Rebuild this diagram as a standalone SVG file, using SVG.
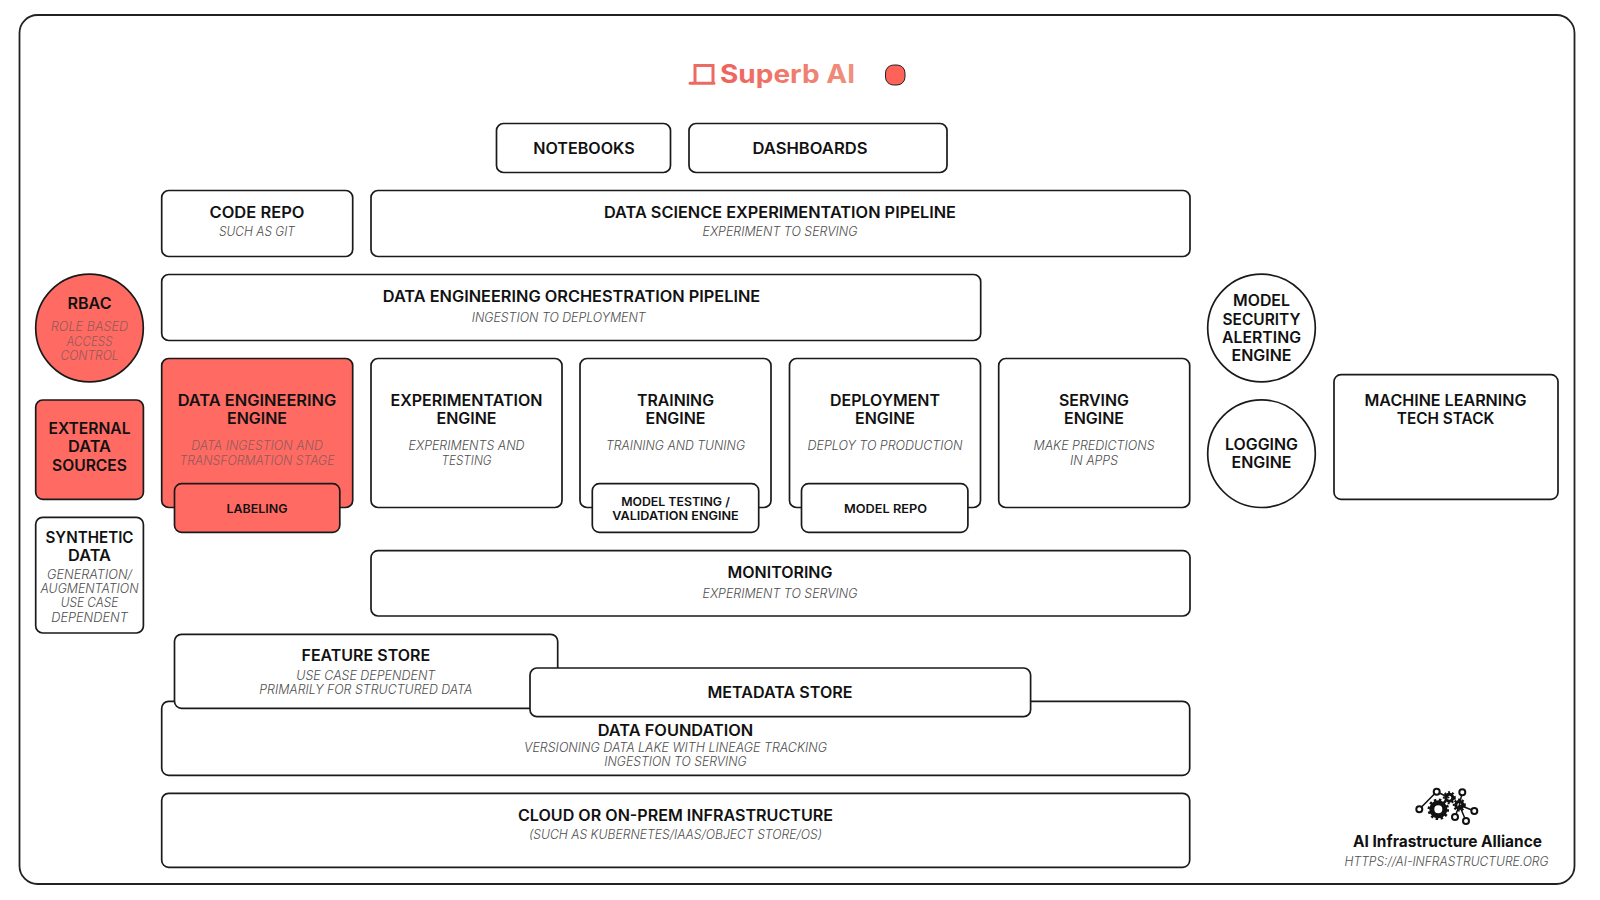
<svg xmlns="http://www.w3.org/2000/svg" width="1600" height="900" viewBox="0 0 1600 900">
<style>
.b{fill:#fff;stroke:#1a1a1a;stroke-width:1.7}
.r{fill:#ff6b63;stroke:#1a1a1a;stroke-width:1.7}
text{font-family:"Inter","Liberation Sans",sans-serif;text-anchor:middle}
.t{font-size:15.5px;font-weight:600;fill:#111}
.s{font-size:12.5px;font-weight:300;font-style:italic;fill:#4d4d4d}
.u{font-size:12.5px;font-weight:300;font-style:italic;fill:#94595a}
.m{font-size:12px;font-weight:600;fill:#111}
.i{fill:#fff;stroke:#111;stroke-width:2}
.l{fill:none;stroke:#111;stroke-width:1.5}
</style>
<defs>
<linearGradient id="lg" x1="0" x2="1" y1="0" y2="0"><stop offset="0" stop-color="#ee625c"/><stop offset="1" stop-color="#f0917c"/></linearGradient>
</defs>
<rect width="1600" height="900" fill="#fff"/>
<rect id="frame" x="19.5" y="15" width="1555" height="869" rx="18" fill="#fff" stroke="#222" stroke-width="1.8"/>
<g id="connectors"/>
<g id="logo-superb">
<path d="M695 83V65.500H713V83M690 83.300H714" fill="none" stroke="#ec6a62" stroke-width="3" stroke-linecap="round"/>
<text x="787.500" y="83.300" textLength="135" lengthAdjust="spacingAndGlyphs" style="font-size:25.500px;font-weight:700;fill:url(#lg)">Superb AI</text>
</g>
<g id="status-dot"><rect x="885.500" y="65" width="19.500" height="20" rx="8" fill="#ff6259" stroke="#222" stroke-width="1"/></g>
<g id="notebooks"><rect class="b" x="496.500" y="123.500" width="174" height="49" rx="7"/><text class="t" x="584" y="153.600" textLength="101.500" lengthAdjust="spacingAndGlyphs">NOTEBOOKS</text></g>
<g id="dashboards"><rect class="b" x="689" y="123.500" width="258" height="49" rx="7"/><text class="t" x="810" y="153.600" textLength="115" lengthAdjust="spacingAndGlyphs">DASHBOARDS</text></g>
<g id="code-repo"><rect class="b" x="161.700" y="190.500" width="191" height="66" rx="7"/><text class="t" x="257" y="217.900" textLength="95" lengthAdjust="spacingAndGlyphs">CODE REPO</text><text class="s" x="257" y="235.500" textLength="76" lengthAdjust="spacingAndGlyphs">SUCH AS GIT</text></g>
<g id="ds-pipeline"><rect class="b" x="371" y="190.500" width="819" height="66" rx="7"/><text class="t" x="780" y="217.900" textLength="352" lengthAdjust="spacingAndGlyphs">DATA SCIENCE EXPERIMENTATION PIPELINE</text><text class="s" x="780" y="235.500" textLength="155" lengthAdjust="spacingAndGlyphs">EXPERIMENT TO SERVING</text></g>
<g id="de-pipeline"><rect class="b" x="161.700" y="274.500" width="819" height="66" rx="7"/><text class="t" x="571.500" y="301.600" textLength="377.500" lengthAdjust="spacingAndGlyphs">DATA ENGINEERING ORCHESTRATION PIPELINE</text><text class="s" x="558.700" y="321.800" textLength="174" lengthAdjust="spacingAndGlyphs">INGESTION TO DEPLOYMENT</text></g>
<g id="rbac"><circle class="r" cx="89.500" cy="328" r="53.800"/><text class="t" x="89.500" y="309.300" textLength="44" lengthAdjust="spacingAndGlyphs">RBAC</text><text class="u" x="89.500" y="331.200" textLength="77.500" lengthAdjust="spacingAndGlyphs">ROLE BASED</text><text class="u" x="89.500" y="345.500" textLength="46" lengthAdjust="spacingAndGlyphs">ACCESS</text><text class="u" x="89.500" y="359.800" textLength="58" lengthAdjust="spacingAndGlyphs">CONTROL</text></g>
<g id="external-data"><rect class="r" x="35.700" y="400" width="107.700" height="99.300" rx="7"/><text class="t" x="89.500" y="433.900" textLength="82" lengthAdjust="spacingAndGlyphs">EXTERNAL</text><text class="t" x="89.500" y="451.900" textLength="43" lengthAdjust="spacingAndGlyphs">DATA</text><text class="t" x="89.500" y="470.600" textLength="75" lengthAdjust="spacingAndGlyphs">SOURCES</text></g>
<g id="synthetic-data"><rect class="b" x="35.700" y="517.300" width="107.700" height="115.700" rx="7"/><text class="t" x="89.500" y="542.900" textLength="88" lengthAdjust="spacingAndGlyphs">SYNTHETIC</text><text class="t" x="89.500" y="561.300" textLength="43" lengthAdjust="spacingAndGlyphs">DATA</text><text class="s" x="89.500" y="578.800" textLength="85" lengthAdjust="spacingAndGlyphs">GENERATION/</text><text class="s" x="89.500" y="593.200" textLength="98" lengthAdjust="spacingAndGlyphs">AUGMENTATION</text><text class="s" x="89.500" y="607.200" textLength="57.700" lengthAdjust="spacingAndGlyphs">USE CASE</text><text class="s" x="89.500" y="621.500" textLength="76.500" lengthAdjust="spacingAndGlyphs">DEPENDENT</text></g>
<g id="de-engine"><rect class="r" x="161.700" y="358.500" width="191" height="149" rx="7"/><text class="t" x="257" y="405.600" textLength="158.700" lengthAdjust="spacingAndGlyphs">DATA ENGINEERING</text><text class="t" x="257" y="423.900" textLength="60" lengthAdjust="spacingAndGlyphs">ENGINE</text><text class="u" x="257" y="450.200" textLength="131.600" lengthAdjust="spacingAndGlyphs">DATA INGESTION AND</text><text class="u" x="257" y="464.500" textLength="155" lengthAdjust="spacingAndGlyphs">TRANSFORMATION STAGE</text></g>
<g id="labeling"><rect class="r" x="174.500" y="483.700" width="165.300" height="48.600" rx="7"/><text class="m" x="257" y="513.400" textLength="61" lengthAdjust="spacingAndGlyphs">LABELING</text></g>
<g id="exp-engine"><rect class="b" x="371" y="358.500" width="191" height="149" rx="7"/><text class="t" x="466.500" y="405.600" textLength="152" lengthAdjust="spacingAndGlyphs">EXPERIMENTATION</text><text class="t" x="466.500" y="423.900" textLength="60" lengthAdjust="spacingAndGlyphs">ENGINE</text><text class="s" x="466.500" y="450.200" textLength="116" lengthAdjust="spacingAndGlyphs">EXPERIMENTS AND</text><text class="s" x="466.500" y="464.500" textLength="50" lengthAdjust="spacingAndGlyphs">TESTING</text></g>
<g id="training-engine"><rect class="b" x="580" y="358.500" width="191" height="149" rx="7"/><text class="t" x="675.500" y="405.600" textLength="77" lengthAdjust="spacingAndGlyphs">TRAINING</text><text class="t" x="675.500" y="423.900" textLength="60" lengthAdjust="spacingAndGlyphs">ENGINE</text><text class="s" x="675.500" y="450.200" textLength="139" lengthAdjust="spacingAndGlyphs">TRAINING AND TUNING</text></g>
<g id="model-testing"><rect class="b" x="592.300" y="483.700" width="166.400" height="48.600" rx="7"/><text class="m" x="675.500" y="506.100" textLength="108.700" lengthAdjust="spacingAndGlyphs">MODEL TESTING /</text><text class="m" x="675.500" y="520.400" textLength="126.500" lengthAdjust="spacingAndGlyphs">VALIDATION ENGINE</text></g>
<g id="deployment-engine"><rect class="b" x="789.500" y="358.500" width="191" height="149" rx="7"/><text class="t" x="885" y="405.600" textLength="110" lengthAdjust="spacingAndGlyphs">DEPLOYMENT</text><text class="t" x="885" y="423.900" textLength="60" lengthAdjust="spacingAndGlyphs">ENGINE</text><text class="s" x="885" y="450.200" textLength="155" lengthAdjust="spacingAndGlyphs">DEPLOY TO PRODUCTION</text></g>
<g id="model-repo"><rect class="b" x="801.500" y="483.700" width="166.400" height="48.600" rx="7"/><text class="m" x="885.500" y="513.400" textLength="83" lengthAdjust="spacingAndGlyphs">MODEL REPO</text></g>
<g id="serving-engine"><rect class="b" x="998.700" y="358.500" width="191" height="149" rx="7"/><text class="t" x="1094" y="405.600" textLength="70" lengthAdjust="spacingAndGlyphs">SERVING</text><text class="t" x="1094" y="423.900" textLength="60" lengthAdjust="spacingAndGlyphs">ENGINE</text><text class="s" x="1094" y="450.200" textLength="121" lengthAdjust="spacingAndGlyphs">MAKE PREDICTIONS</text><text class="s" x="1094" y="464.500" textLength="48" lengthAdjust="spacingAndGlyphs">IN APPS</text></g>
<g id="model-security"><circle class="b" cx="1261.500" cy="328" r="53.800"/><text class="t" x="1261.500" y="306.300" textLength="57" lengthAdjust="spacingAndGlyphs">MODEL</text><text class="t" x="1261.500" y="324.600" textLength="78" lengthAdjust="spacingAndGlyphs">SECURITY</text><text class="t" x="1261.500" y="342.900" textLength="79" lengthAdjust="spacingAndGlyphs">ALERTING</text><text class="t" x="1261.500" y="361.300" textLength="60" lengthAdjust="spacingAndGlyphs">ENGINE</text></g>
<g id="logging-engine"><circle class="b" cx="1261.500" cy="453.700" r="53.800"/><text class="t" x="1261.500" y="449.600" textLength="73" lengthAdjust="spacingAndGlyphs">LOGGING</text><text class="t" x="1261.500" y="468.200" textLength="60" lengthAdjust="spacingAndGlyphs">ENGINE</text></g>
<g id="ml-tech-stack"><rect class="b" x="1334" y="374.700" width="224" height="124.600" rx="7"/><text class="t" x="1445.500" y="405.600" textLength="162" lengthAdjust="spacingAndGlyphs">MACHINE LEARNING</text><text class="t" x="1445.500" y="423.900" textLength="97.500" lengthAdjust="spacingAndGlyphs">TECH STACK</text></g>
<g id="monitoring"><rect class="b" x="371" y="550.700" width="819" height="65.300" rx="7"/><text class="t" x="780" y="578.300" textLength="105" lengthAdjust="spacingAndGlyphs">MONITORING</text><text class="s" x="780" y="598.200" textLength="155" lengthAdjust="spacingAndGlyphs">EXPERIMENT TO SERVING</text></g>
<g id="data-foundation"><rect class="b" x="161.700" y="701.300" width="1028" height="74" rx="7"/><text class="t" x="675.500" y="735.600" textLength="155.600" lengthAdjust="spacingAndGlyphs">DATA FOUNDATION</text><text class="s" x="675.500" y="751.500" textLength="303" lengthAdjust="spacingAndGlyphs">VERSIONING DATA LAKE WITH LINEAGE TRACKING</text><text class="s" x="675.500" y="765.500" textLength="142.400" lengthAdjust="spacingAndGlyphs">INGESTION TO SERVING</text></g>
<g id="feature-store"><rect class="b" x="174.500" y="634.300" width="383.200" height="74" rx="7"/><text class="t" x="365.800" y="660.900" textLength="128.600" lengthAdjust="spacingAndGlyphs">FEATURE STORE</text><text class="s" x="365.800" y="680" textLength="139" lengthAdjust="spacingAndGlyphs">USE CASE DEPENDENT</text><text class="s" x="365.800" y="694.200" textLength="213" lengthAdjust="spacingAndGlyphs">PRIMARILY FOR STRUCTURED DATA</text></g>
<g id="metadata-store"><rect class="b" x="530" y="668" width="500.600" height="48.700" rx="7"/><text class="t" x="780" y="697.900" textLength="145" lengthAdjust="spacingAndGlyphs">METADATA STORE</text></g>
<g id="cloud"><rect class="b" x="161.700" y="793.300" width="1028" height="74" rx="7"/><text class="t" x="675.500" y="820.900" textLength="315" lengthAdjust="spacingAndGlyphs">CLOUD OR ON-PREM INFRASTRUCTURE</text><text class="s" x="675.500" y="838.500" textLength="293" lengthAdjust="spacingAndGlyphs">(SUCH AS KUBERNETES/IAAS/OBJECT STORE/OS)</text></g>
<g id="alliance-logo">
<path class="l" d="M1419.300 809.300L1436.700 791.700L1449.300 797.700M1459.300 805L1474.300 811M1459.300 805L1455 817M1459.300 805L1466 821M1459.300 805L1462.300 792.300"/>
<circle cx="1438.300" cy="809.300" r="6.500" fill="none" stroke="#111" stroke-width="5"/>
<circle cx="1438.300" cy="809.300" r="9.500" fill="none" stroke="#111" stroke-width="2.500" stroke-dasharray="2.500 2.500"/>
<circle cx="1449.300" cy="797.700" r="3.500" fill="none" stroke="#111" stroke-width="3"/>
<circle cx="1449.300" cy="797.700" r="5.500" fill="none" stroke="#111" stroke-width="2" stroke-dasharray="2 2"/>
<circle cx="1459.300" cy="805" r="3.500" fill="none" stroke="#111" stroke-width="3"/>
<circle cx="1459.300" cy="805" r="5.500" fill="none" stroke="#111" stroke-width="2" stroke-dasharray="2 2"/>
<circle class="i" cx="1436.700" cy="791.700" r="3"/><circle class="i" cx="1462.300" cy="792.300" r="3"/><circle class="i" cx="1419.300" cy="809.300" r="3"/><circle class="i" cx="1474.300" cy="811" r="3"/><circle class="i" cx="1455" cy="817" r="3"/><circle class="i" cx="1466" cy="821" r="3"/>
<text x="1447.500" y="846.500" textLength="189" lengthAdjust="spacingAndGlyphs" style="font-size:16px;font-weight:700;fill:#111">AI Infrastructure Alliance</text>
<text class="s" x="1446.500" y="866" textLength="204" lengthAdjust="spacingAndGlyphs">HTTPS://AI-INFRASTRUCTURE.ORG</text>
</g>
</svg>
